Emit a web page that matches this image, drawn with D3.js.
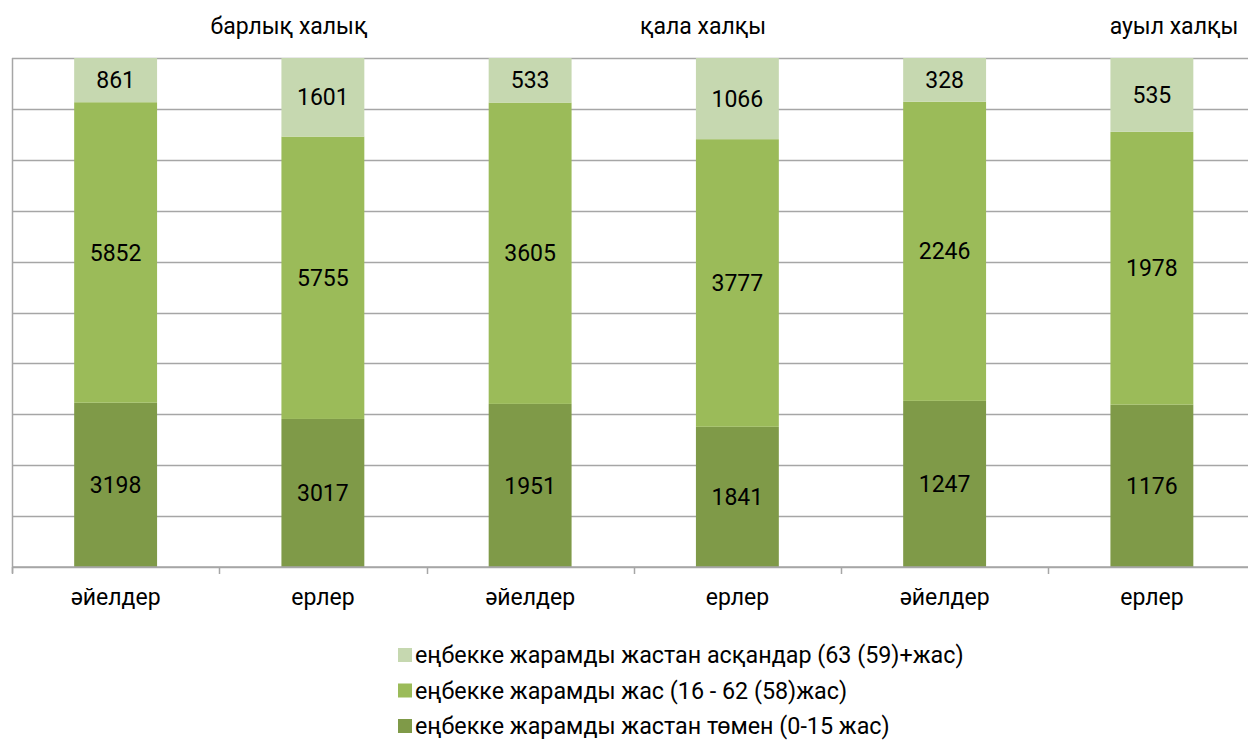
<!DOCTYPE html>
<html><head><meta charset="utf-8">
<script src="https://cdn.jsdelivr.net/npm/d3@7"></script>
<style>body{margin:0;background:#fff;font-family:Roboto,"Noto Sans",sans-serif;}</style>
</head><body><svg id="c" width="1248" height="740"></svg>
<script>
const categories = ["әйелдер","ерлер","әйелдер","ерлер","әйелдер","ерлер"];
const groupTitles = ["барлық халық","қала халқы","ауыл халқы"];
const under = [3198,3017,1951,1841,1247,1176];
const working = [5852,5755,3605,3777,2246,1978];
const over = [861,1601,533,1066,328,535];
const seriesNames = ["еңбекке жарамды жастан төмен (0-15 жас)","еңбекке жарамды жас (16 - 62 (58)жас)","еңбекке жарамды жастан асқандар (63 (59)+жас)"];
const colors = ["#7f9a48","#9bbb59","#c6d8b0"];

const FS = 23;
const svg = d3.select("#c");
const m = {l:12, t:58, b:173};
const W = 1248, H = 740, plotRight = 1255.5;
const rows = categories.map((c,i)=>({i, s0:under[i], s1:working[i], s2:over[i]}));
const keys = ["s0","s1","s2"];
const stack = d3.stack().keys(keys).offset(d3.stackOffsetExpand)(rows);

const x = d3.scaleBand().domain(d3.range(categories.length)).range([m.l, plotRight]).paddingInner(0.6).paddingOuter(0.3);
const xb = d3.scaleBand().domain(d3.range(categories.length)).range([m.l, plotRight]);
const y = d3.scaleLinear().domain([0,1]).range([H-m.b, m.t]);

// gridlines
svg.append("g").selectAll("line").data(d3.range(0,1.0001,0.1)).join("line")
  .attr("x1", m.l).attr("x2", W).attr("y1", d=>Math.round(y(d))+0.5).attr("y2", d=>Math.round(y(d))+0.5)
  .attr("stroke", "#a6a6a6").attr("stroke-width",1.5);
// left axis line
svg.append("line").attr("x1",m.l+0.5).attr("x2",m.l+0.5).attr("y1",y(1)).attr("y2",y(0)+6)
  .attr("stroke","#a6a6a6").attr("stroke-width",1.5);

// bars
const g = svg.append("g");
stack.forEach((layer,li)=>{
  g.append("g").selectAll("rect").data(layer).join("rect")
    .attr("x", (d,i)=>x(i)).attr("width", x.bandwidth())
    .attr("y", d=>y(d[1])).attr("height", d=>y(d[0])-y(d[1]))
    .attr("fill", colors[li]);
  g.append("g").selectAll("text").data(layer).join("text")
    .attr("x",(d,i)=>x(i)+x.bandwidth()/2).attr("y", d=>(y(d[0])+y(d[1]))/2)
    .attr("dy","0.35em").attr("text-anchor","middle").attr("font-size",FS).attr("fill","#000")
    .text(d=>d.data[keys[li]]);
});

// bottom axis
const xa = svg.append("g").attr("transform",`translate(0,${y(0)})`);
xa.append("line").attr("x1",m.l).attr("x2",W).attr("stroke","#a6a6a6").attr("stroke-width",1.5);
xa.selectAll("line.t").data(d3.range(categories.length+1)).join("line").attr("class","t")
  .attr("x1",d=>Math.round(m.l + d*xb.step())+0.5).attr("x2",d=>Math.round(m.l + d*xb.step())+0.5)
  .attr("y1",0).attr("y2",7).attr("stroke","#a6a6a6").attr("stroke-width",1.5);
xa.selectAll("text").data(categories).join("text")
  .attr("x",(d,i)=>xb(i)+xb.bandwidth()/2).attr("y",30).attr("dy","0.35em").attr("text-anchor","middle")
  .attr("font-size",FS).attr("fill","#000").text(d=>d);

// group titles
const titleX = [289, 703, 1174];
svg.selectAll("text.gt").data(groupTitles).join("text").attr("class","gt")
  .attr("x",(d,i)=>titleX[i]).attr("y",26).attr("dy","0.35em").attr("text-anchor","middle")
  .attr("font-size",FS).attr("fill","#000").text(d=>d);

// legend
const legOrder = [2,1,0];
const lg = svg.append("g").attr("transform","translate(398,655)");
legOrder.forEach((si,k)=>{
  const row = lg.append("g").attr("transform",`translate(0,${k*35.5})`);
  row.append("rect").attr("x",0).attr("y",-7).attr("width",14).attr("height",14).attr("fill",colors[si]);
  row.append("text").attr("x",17).attr("y",0).attr("dy","0.35em").attr("font-size",23.3).attr("fill","#000").text(seriesNames[si]);
});
</script></body></html>
